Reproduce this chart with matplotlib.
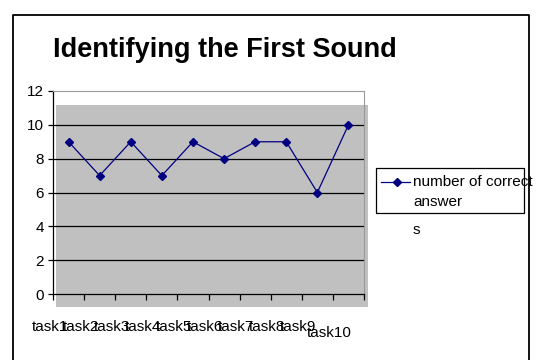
import matplotlib.pyplot as plt
from matplotlib.patches import Rectangle
from matplotlib.lines import Line2D
from matplotlib.transforms import ScaledTranslation

tasks = ["task1", "task2", "task3", "task4", "task5",
         "task6", "task7", "task8", "task9", "task10"]
correct = [9, 7, 9, 7, 9, 8, 9, 9, 6, 10]
series_name = "number of correct answers"

plt.rcParams['font.family'] = ['Liberation Sans', 'DejaVu Sans']
navy = "#000080"

fig = plt.figure(figsize=(5.45, 3.6), dpi=100)
ax = fig.add_axes([53 / 545, 66 / 360, 311 / 545, 203 / 360])
ax.set_facecolor("none")

# grey plot area (slightly shifted like the original export)
ax.add_patch(Rectangle((0.01, -0.064), 1.003, 0.995, transform=ax.transAxes,
                       facecolor="#c0c0c0", edgecolor="none", zorder=0,
                       clip_on=False))

x = [i + 0.5 for i in range(len(tasks))]
ax.plot(x, correct, color=navy, lw=0.9, marker="D", markersize=4.5,
        zorder=3, clip_on=False)

ax.set_xlim(0, len(tasks))
ax.set_ylim(0, 12)
ax.set_yticks(range(0, 13, 2))
for v in range(2, 12, 2):
    ax.axhline(v, color="black", lw=0.9, zorder=1)

ax.tick_params(axis="y", direction="out", length=3.5, width=0.9, pad=3,
               labelsize=11)
ax.set_xticks(range(0, len(tasks) + 1))
ax.set_xticklabels([])
ax.tick_params(axis="x", which="major", direction="out", length=4, width=0.9)
ax.set_xticks(x, minor=True)
ax.set_xticklabels(tasks, minor=True)
ax.tick_params(axis="x", which="minor", length=0, pad=19, labelsize=11)
for i, lab in enumerate(ax.get_xticklabels(minor=True)):
    dy = -4 / 72 if i == len(tasks) - 1 else 0
    lab.set_transform(lab.get_transform() +
                      ScaledTranslation(-0.19, dy * 1.0, fig.dpi_scale_trans))

for s in ["left", "bottom"]:
    ax.spines[s].set_color("black")
    ax.spines[s].set_linewidth(0.9)
for s in ["top", "right"]:
    ax.spines[s].set_color("#999999")
    ax.spines[s].set_linewidth(0.8)

fig.text(225 / 545, 1 - 56.6 / 360, "Identifying the First Sound",
         ha="center", va="baseline", fontsize=19.5, fontweight="bold")

# hand-built legend box, text overflows like the original
fig.patches.append(Rectangle((375.7 / 545, 1 - 213 / 360),
                             (524 - 375.7) / 545, 45 / 360,
                             transform=fig.transFigure, fill=False,
                             edgecolor="black", lw=0.9))
ly = 1 - 182 / 360
fig.lines.append(Line2D([381 / 545, 410 / 545], [ly, ly],
                        transform=fig.transFigure, color=navy, lw=0.9))
fig.lines.append(Line2D([397 / 545], [ly], transform=fig.transFigure,
                        color=navy, marker="D", markersize=4.5))
words = series_name.split()
fig.text(413 / 545, ly, " ".join(words[:3]), ha="left", va="center",
         fontsize=11)
fig.text(413 / 545, 1 - 202 / 360, words[3][:-1], ha="left", va="center",
         fontsize=11)
fig.text(413 / 545, 1 - 230 / 360, words[3][-1], ha="left", va="center",
         fontsize=11)

# outer chart border (bottom edge is off the image)
bx0, bx1, by1 = 13 / 545, 529 / 545, 1 - 15 / 360
fig.lines.append(Line2D([bx0, bx0, bx1, bx1], [-0.05, by1, by1, -0.05],
                        transform=fig.transFigure, color="black", lw=1.3))

fig.savefig("out.png", dpi=100)
